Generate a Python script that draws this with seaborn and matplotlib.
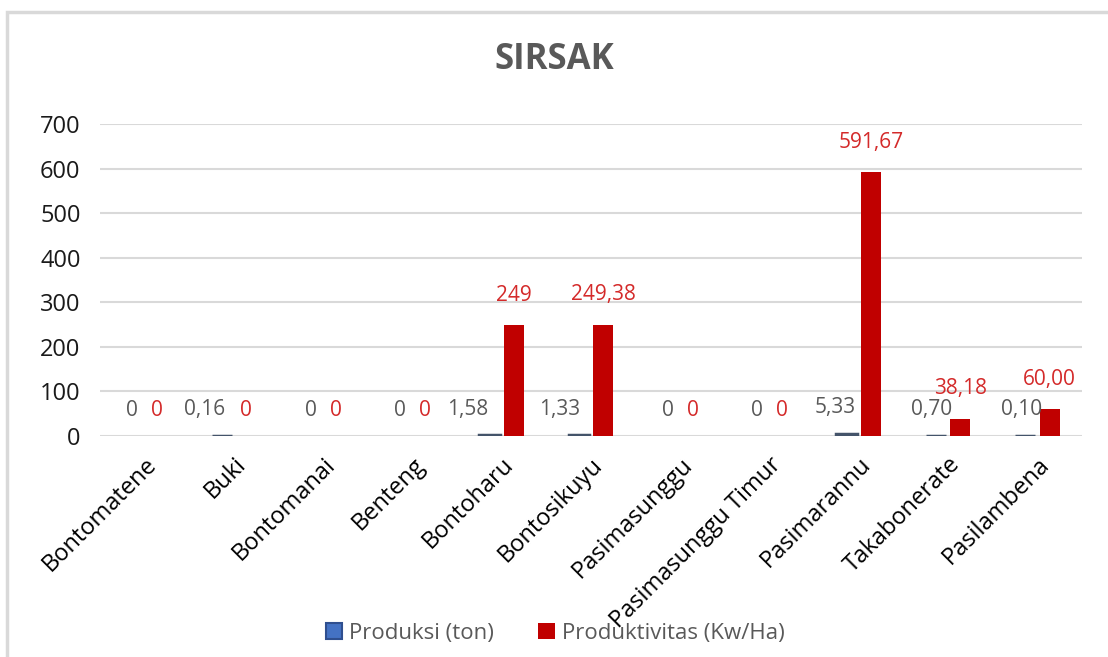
import matplotlib
matplotlib.use("Agg")
import matplotlib.pyplot as plt
import seaborn as sns
import pandas as pd
from matplotlib.patches import Rectangle, Patch

categories = ["Bontomatene", "Buki", "Bontomanai", "Benteng", "Bontoharu",
              "Bontosikuyu", "Pasimasunggu", "Pasimasunggu Timur", "Pasimarannu",
              "Takabonerate", "Pasilambena"]
produksi = [0, 0.16, 0, 0, 1.58, 1.33, 0, 0, 5.33, 0.70, 0.10]
produktivitas = [0, 0, 0, 0, 249, 249.38, 0, 0, 591.67, 38.18, 60.00]
produksi_labels = ["0", "0,16", "0", "0", "1,58", "1,33", "0", "0", "5,33", "0,70", "0,10"]
produktivitas_labels = ["0", "0", "0", "0", "249", "249,38", "0", "0", "591,67", "38,18", "60,00"]
series_names = ["Produksi (ton)", "Produktivitas (Kw/Ha)"]
y_ticks = [0, 100, 200, 300, 400, 500, 600, 700]

# label nudges (pixels) to mimic overlap avoidance
produksi_label_dx = [0, -17, 0, 0, -22, -19, 0, 0, -11, -4, -4]

df = pd.DataFrame({
    "Desa": categories * 2,
    "Nilai": produksi + produktivitas,
    "Seri": [series_names[0]] * len(categories) + [series_names[1]] * len(categories),
})

sns.set_theme(style="white")
plt.rcParams["font.family"] = ["Open Sans", "DejaVu Sans"]

fig = plt.figure(figsize=(11.08, 6.57), dpi=100)
ax = fig.add_axes([100 / 1108, 1 - 436 / 657, 982 / 1108, 312 / 657])

blue_fill = "#4472C4"
blue_edge = "#2F4F8F"
red = "#C00000"

sns.barplot(data=df, x="Desa", y="Nilai", hue="Seri", order=categories,
            hue_order=series_names, palette=[blue_fill, red],
            width=0.55, gap=0.18, ax=ax, legend=False, saturation=1)

containers = ax.containers
for p in containers[0].patches:
    p.set_edgecolor("#44546A")
    p.set_linewidth(2.5 if p.get_height() > 0 else 0)
for p in containers[1].patches:
    p.set_edgecolor("none")

ax.set_ylim(0, 700)
ax.set_xlim(-0.5, len(categories) - 0.5)
ax.set_yticks(y_ticks)
ax.set_yticklabels([str(t) for t in y_ticks], fontsize=17, color="#1a1a1a")
ax.grid(axis="y", color="#D9D9D9", linewidth=1.5)
ax.set_axisbelow(True)
for s in ["top", "right", "left", "bottom"]:
    ax.spines[s].set_visible(False)
ax.tick_params(axis="y", length=0, pad=14)
ax.tick_params(axis="x", length=0, pad=12)
ax.set_xlabel("")
ax.set_ylabel("")
ax.set_xticks(range(len(categories)))
ax.set_xticklabels(categories, rotation=45, ha="right", rotation_mode="anchor",
                   fontsize=17, color="#000000")

# data labels
for p, lab, dx in zip(containers[0].patches, produksi_labels, produksi_label_dx):
    ax.annotate(lab, (p.get_x() + p.get_width() / 2, p.get_height()),
                xytext=(dx, 26), textcoords="offset pixels", ha="center", va="center",
                fontsize=15, color="#595959")
for p, lab in zip(containers[1].patches, produktivitas_labels):
    ax.annotate(lab, (p.get_x() + p.get_width() / 2, p.get_height()),
                xytext=(0, 30 if p.get_height() > 0 else 26), textcoords="offset pixels",
                ha="center", va="center", fontsize=15, color="#D42A2A")

fig.text(0.5, 1 - 60 / 657, "SIRSAK", ha="center", va="center",
         fontsize=25, fontweight="bold", color="#595959")

handles = [Patch(facecolor=blue_fill, edgecolor=blue_edge, linewidth=1.5),
           Patch(facecolor=red, edgecolor="none")]
fig.legend(handles, series_names, loc="center", bbox_to_anchor=(555 / 1108, 1 - 633 / 657),
           ncol=2, frameon=False, fontsize=16, handlelength=0.75, handleheight=0.75,
           handletextpad=0.3, columnspacing=2.0, labelcolor="#595959")

# outer chart border
fig.patches.append(Rectangle((7 / 1108, -0.1), 1.2, 1 - 12 / 657 + 0.1,
                             transform=fig.transFigure, fill=False,
                             edgecolor="#D9D9D9", linewidth=2.5, zorder=-1))

fig.savefig("out.png", dpi=100)
